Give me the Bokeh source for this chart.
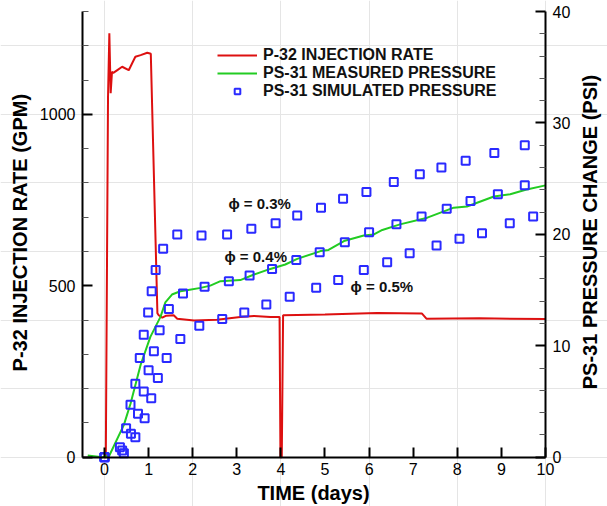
import math
from bokeh.plotting import figure
from bokeh.models import Range1d, LinearAxis, FixedTicker, Legend, LegendItem
from bokeh.core.properties import value
from bokeh.embed import file_html
from bokeh.resources import INLINE

# ---------------- data ----------------
# P-32 injection rate (GPM), left axis
rate_t = [0.0, 0.03, 0.08, 0.11, 0.14, 0.17, 0.2, 0.3, 0.4, 0.55, 0.63, 0.70, 0.82, 0.97, 1.05,
          1.20, 1.23, 1.31, 1.40, 1.57, 1.65, 2.03, 2.55, 3.08, 3.39, 3.76, 3.97, 3.99, 4.02, 4.05,
          5.0, 6.18, 7.20, 7.30, 8.5, 10.0]
rate_gpm = [0, 0, 1050, 1237, 1062, 1124, 1121, 1130, 1139, 1129, 1150, 1168, 1173, 1180, 1177,
            420, 414, 407, 413, 414, 404, 399, 401, 409, 412, 409, 409, 0, 0, 414,
            416, 421, 419, 404, 405, 403]

# PS-31 measured pressure change (PSI), right axis
meas_t = [-0.38, -0.05, 0.11, 0.44, 0.59, 0.82, 1.04, 1.27, 1.38, 1.53, 1.72, 1.9, 2.18, 2.4,
          2.63, 3.08, 3.39, 3.76, 4.1, 4.37, 4.9, 5.08, 5.43, 5.88, 6.11, 6.3, 6.7, 7.32, 7.92,
          8.22, 8.83, 9.2, 9.55, 10.0]
meas_psi = [0.15, 0.0, 0.15, 2.9, 4.8, 8.3, 10.8, 12.6, 13.9, 14.6, 14.9, 15.0, 15.2, 15.4,
            15.8, 15.9, 16.4, 16.9, 17.3, 17.8, 18.5, 18.6, 19.4, 19.9, 20.0, 20.4, 20.9, 21.5, 22.4,
            22.5, 23.4, 23.6, 24.0, 24.4]

# PS-31 simulated pressure (PSI), three porosities
sim03_t = [0, 0.35, 0.49, 0.59, 0.70, 0.80, 0.89, 0.99, 1.07, 1.16, 1.33, 1.65, 2.2, 2.78, 3.33,
           3.88, 4.37, 4.91, 5.41, 5.94, 6.56, 7.15, 7.64, 8.19, 8.84, 9.53]
sim03_psi = [0, 0.9, 2.6, 4.7, 6.6, 8.9, 11.0, 13.0, 14.9, 16.8, 18.7, 20.0, 19.9, 20.0, 20.5,
             21.0, 21.7, 22.4, 23.2, 23.8, 24.7, 25.4, 26.0, 26.6, 27.3, 28.0]
sim04_t = [0, 0.40, 0.60, 0.76, 0.89, 1.0, 1.12, 1.25, 1.46, 1.78, 2.27, 2.82, 3.29, 3.80, 4.35,
           4.88, 5.45, 6.0, 6.62, 7.19, 7.76, 8.3, 8.92, 9.53]
sim04_psi = [0, 0.6, 2.1, 3.9, 5.9, 7.8, 9.5, 11.4, 13.3, 14.7, 15.3, 15.8, 16.3, 16.9, 17.7,
             18.4, 19.3, 20.2, 20.9, 21.6, 22.3, 23.0, 23.6, 24.4]
sim05_t = [0, 0.44, 0.70, 0.91, 1.06, 1.21, 1.41, 1.72, 2.15, 2.67, 3.17, 3.67, 4.2, 4.8, 5.3,
           5.88, 6.41, 6.92, 7.53, 8.05, 8.56, 9.19, 9.72]
sim05_psi = [0, 0.36, 1.8, 3.5, 5.3, 7.1, 8.9, 10.6, 11.8, 12.4, 13.0, 13.7, 14.4, 15.2, 15.9,
             16.8, 17.5, 18.3, 19.0, 19.6, 20.1, 21.0, 21.6]

x_ticks = [0, 1, 2, 3, 4, 5, 6, 7, 8, 9, 10]
left_ticks = [0, 500, 1000]
left_minor = [100, 200, 300, 400, 600, 700, 800, 900, 1100, 1200, 1300]
right_ticks = [0, 10, 20, 30, 40]
right_minor = [2, 4, 6, 8, 12, 14, 16, 18, 22, 24, 26, 28, 32, 34, 36, 38]

x_title = "TIME (days)"
left_title = "P-32 INJECTION RATE (GPM)"
right_title = "PS-31 PRESSURE CHANGE (PSI)"
legend_labels = ["P-32 INJECTION RATE", "PS-31 MEASURED PRESSURE", "PS-31 SIMULATED PRESSURE"]
phi_labels = ["\u03d5 = 0.3%", "\u03d5 = 0.4%", "\u03d5 = 0.5%"]

# ---------------- style ----------------
FONT = "Liberation Sans"
RED = "#dd1010"
GREEN = "#22cc22"
BLUE = "#2a2aff"

# axis extents (the visible plot box) and the wider canvas ranges around them
T0, T1 = -0.5, 10.0
G0, G1 = 0, 1300
P0, P1 = 0, 40
GPM_PER_PSI = (G1 - G0) / (P1 - P0)
X_LO, X_HI = -2.358, 11.406
Y_LO, Y_HI = -143.8, 1332.3

p = figure(width=607, height=506, output_backend="svg", toolbar_location=None,
           x_range=Range1d(X_LO, X_HI), y_range=Range1d(Y_LO, Y_HI),
           min_border=0, x_axis_location=None, y_axis_location=None)
p.extra_y_ranges = {"psi": Range1d(Y_LO / GPM_PER_PSI, Y_HI / GPM_PER_PSI)}
p.outline_line_color = None
p.background_fill_color = "white"
p.border_fill_color = "white"


def style_axis(ax):
    ax.major_label_text_font = FONT
    ax.major_label_text_font_size = "16px"
    ax.major_label_text_color = "black"
    ax.axis_line_width = 2
    ax.axis_line_color = "black"
    ax.major_tick_in = 10
    ax.major_tick_out = 0
    ax.major_tick_line_width = 2
    ax.major_tick_line_color = "black"
    ax.minor_tick_in = 6
    ax.minor_tick_out = 0
    ax.minor_tick_line_width = 1
    ax.minor_tick_line_color = "#555555"


xa = LinearAxis(fixed_location=0, bounds=(T0, T1),
                ticker=FixedTicker(ticks=x_ticks))
style_axis(xa)
xa.major_label_standoff = 6
p.add_layout(xa, "below")

ya = LinearAxis(fixed_location=T0, bounds=(G0, G1),
                ticker=FixedTicker(ticks=left_ticks, minor_ticks=left_minor))
style_axis(ya)
ya.major_label_standoff = 7
p.add_layout(ya, "left")

ra = LinearAxis(y_range_name="psi", fixed_location=T1, bounds=(P0, P1),
                ticker=FixedTicker(ticks=right_ticks, minor_ticks=right_minor))
style_axis(ra)
ra.major_label_standoff = 7
p.add_layout(ra, "right")

# axis titles
title_kw = dict(text_font=value(FONT), text_font_size="20px", text_font_style="bold",
                text_color="black", text_align="center", text_baseline="middle")
p.text(x=[4.74], y=[-103], text=[x_title], **title_kw)
p.text(x=[-1.916], y=[655], text=[left_title], angle=math.pi / 2, **title_kw)
p.text(x=[11.02], y=[657], text=[right_title], angle=math.pi / 2, **title_kw)

# ---------------- glyphs ----------------
r_rate = p.line(rate_t, rate_gpm, line_color=RED, line_width=2)
r_meas = p.line(meas_t, meas_psi, line_color=GREEN, line_width=2, y_range_name="psi")
sq_kw = dict(marker="square", size=8, line_color=BLUE, line_width=2, fill_color=None,
             y_range_name="psi")
r_s3 = p.scatter(sim03_t, sim03_psi, **sq_kw)
r_s4 = p.scatter(sim04_t, sim04_psi, **sq_kw)
r_s5 = p.scatter(sim05_t, sim05_psi, **sq_kw)

txt_kw = dict(text_font=value(FONT), text_font_size="15px", text_font_style="bold",
              text_color="#111111", text_baseline="middle", text_align="left",
              y_range_name="psi")
p.text(x=[2.81], y=[22.8], text=[phi_labels[0]], **txt_kw)
p.text(x=[2.72], y=[18.05], text=[phi_labels[1]], **txt_kw)
p.text(x=[5.58], y=[15.3], text=[phi_labels[2]], **txt_kw)

legend = Legend(items=[LegendItem(label=legend_labels[0], renderers=[r_rate]),
                       LegendItem(label=legend_labels[1], renderers=[r_meas]),
                       LegendItem(label=legend_labels[2], renderers=[r_s3])],
                location=(217, 406))
legend.label_text_font = FONT
legend.label_text_font_size = "16px"
legend.label_text_font_style = "bold"
legend.label_text_color = "#111111"
legend.glyph_width = 40
legend.glyph_height = 14
legend.label_height = 14
legend.label_standoff = 6
legend.spacing = -3
legend.padding = 0
legend.margin = 0
legend.background_fill_alpha = 0
legend.border_line_color = None
p.add_layout(legend)

open("out.html", "w").write(file_html(p, INLINE))
